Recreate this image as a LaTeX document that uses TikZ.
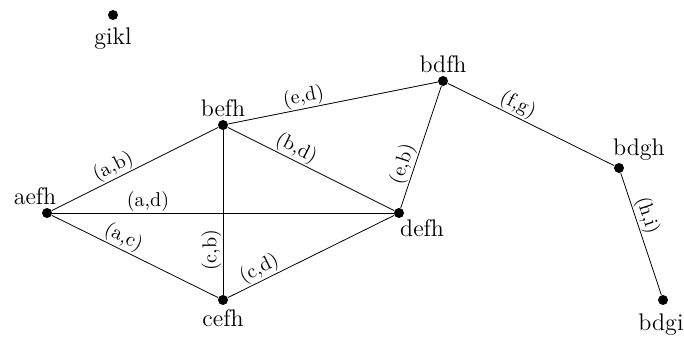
\documentclass[tikz,border=0pt]{standalone}
\usetikzlibrary{positioning}
\begin{document}
\begin{tikzpicture}[x=0.5pt,y=0.5pt,
  vtx/.style={circle,fill,inner sep=0pt,minimum size=5pt},
  every label/.style={font=\large,inner sep=1pt},
  el/.style={sloped,above,inner sep=0.6pt,font=\normalsize}]
\useasboundingbox (0,0) rectangle (684,338);
\node[vtx,label={[label distance=2.5pt]below:gikl}] (gikl) at (113,323) {};
\node[vtx,label=above:befh] (befh) at (223,213) {};
\node[vtx,label=above:bdfh] (bdfh) at (443,257) {};
\node[vtx,label={[xshift=10pt]above:bdgh}] (bdgh) at (619,170) {};
\node[vtx,label={[xshift=-6pt]above:aefh}] (aefh) at (47,125) {};
\node[vtx,label={[xshift=-2.5pt]below right:defh}] (defh) at (399,125) {};
\node[vtx,label={[label distance=1pt]below:cefh}] (cefh) at (223,38) {};
\node[vtx,label={[xshift=-1pt,label distance=3pt]below:bdgi}] (bdgi) at (663,38) {};
\draw (aefh) -- node[el,pos=0.4] {(a,b)} (befh);
\draw (befh) -- node[el,pos=0.37] {(e,d)} (bdfh);
\draw (befh) -- node[el,pos=0.38] {(b,d)} (defh);
\draw (aefh) -- node[el,pos=0.28] {(a,d)} (defh);
\draw (aefh) -- node[el,pos=0.4] {(a,c)} (cefh);
\draw (cefh) -- node[el,pos=0.27] {(c,b)} (befh);
\draw (cefh) -- node[el,pos=0.22] {(c,d)} (defh);
\draw (defh) -- node[el,pos=0.33] {(e,b)} (bdfh);
\draw (bdfh) -- node[el,pos=0.39] {(f,g)} (bdgh);
\draw (bdgh) -- node[el,pos=0.38] {(h,i)} (bdgi);
\end{tikzpicture}
\end{document}
